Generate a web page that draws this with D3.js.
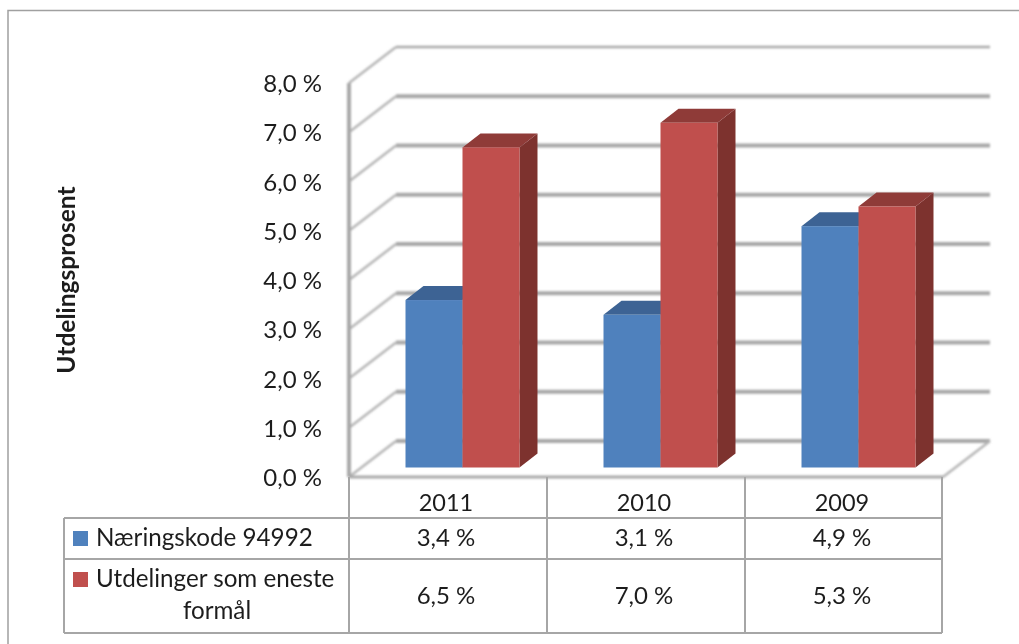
<!DOCTYPE html>
<html>
<head>
<meta charset="utf-8">
<script src="https://cdn.jsdelivr.net/npm/d3@7"></script>
<style>
  html, body { margin: 0; padding: 0; background: #fff; }
  text { font-family: Lato, "Open Sans", sans-serif; fill: #1f1f1f; }
</style>
</head>
<body>
<div id="my_dataviz"></div>
<script>
var years = ["2011", "2010", "2009"]
var seriesNames = ["Næringskode 94992", "Utdelinger som eneste formål"]
var kode = [3.4, 3.1, 4.9]
var eneste = [6.5, 7.0, 5.3]
var yTicks = [0, 1, 2, 3, 4, 5, 6, 7, 8]

var width = 1019, height = 644
var fmt = d => d.toFixed(1).replace(".", ",") + " %"

var svg = d3.select("#my_dataviz").append("svg")
  .attr("width", width).attr("height", height)
  .style("display", "block")

// the reference is a slightly soft raster
var defs = svg.append("defs")
defs.append("filter").attr("id", "soft")
  .append("feGaussianBlur").attr("stdDeviation", 0.6)
defs.append("filter").attr("id", "softer")
  .attr("x", "-5%").attr("y", "-5%").attr("width", "110%").attr("height", "110%")
  .append("feGaussianBlur").attr("stdDeviation", 0.9)

// outer frame: only top and left are inside the picture
svg.append("path")
  .attr("d", "M8,644V10.5H1019")
  .attr("fill", "none").attr("stroke", "#a0a0a0").attr("stroke-width", 1.5)

var root = svg.append("g").attr("filter", "url(#soft)")

var ys = d3.scaleLinear().domain([0, 8]).range([477, 83])
var xs = d3.scaleBand().domain(years).range([349, 943])
var xInner = d3.scaleBand().domain([0, 1]).range([2, xs.bandwidth() + 2]).paddingOuter(0.737)

// wall depth, and where the bars sit inside it
var wallDx = 47, wallDy = 36
var barDx = 12.5, barDy = 9.5
var topDx = 18, topDy = 14

var grid = root.append("g").attr("filter", "url(#softer)")

// gridlines: side wall then back wall
grid.selectAll(".side").data(yTicks).enter().append("line")
  .attr("x1", 349).attr("y1", d => ys(d))
  .attr("x2", 349 + wallDx).attr("y2", d => ys(d) - wallDy)
  .attr("stroke", "#b5b5b5").attr("stroke-width", 2.5)

grid.selectAll(".back").data(yTicks).enter().append("line")
  .attr("x1", 349 + wallDx).attr("y1", d => ys(d) - wallDy)
  .attr("x2", 943 + wallDx).attr("y2", d => ys(d) - wallDy)
  .attr("stroke", "#a8a8a8").attr("stroke-width", d => d == 8 ? 2.5 : 4)

// floor edge and y axis post
grid.append("line")
  .attr("x1", 943).attr("y1", ys(0)).attr("x2", 943 + wallDx).attr("y2", ys(0) - wallDy)
  .attr("stroke", "#b5b5b5").attr("stroke-width", 2.5)
grid.append("line")
  .attr("x1", 349).attr("y1", ys(8)).attr("x2", 349).attr("y2", ys(0))
  .attr("stroke", "#a8a8a8").attr("stroke-width", 4)
grid.append("line")
  .attr("x1", 349).attr("y1", ys(0)).attr("x2", 943).attr("y2", ys(0))
  .attr("stroke", "#a8a8a8").attr("stroke-width", 3)

// y tick labels
root.selectAll(".ytick").data(yTicks).enter().append("text")
  .attr("x", 322).attr("y", d => ys(d) + 9)
  .attr("text-anchor", "end").attr("font-size", 24)
  .text(fmt)

root.append("text")
  .attr("transform", "translate(75,280) rotate(-90)")
  .attr("text-anchor", "middle")
  .attr("font-size", 24.5).attr("font-weight", "bold")
  .text("Utdelingsprosent")

// bars, drawn back to front inside each category
var colors = [
  { front: "#4f81bd", top: "#3c6494", side: "#385d8a" },
  { front: "#c0504d", top: "#8f3b39", side: "#7d302e" }
]

var bars = []
years.forEach(function (y, i) {
  bars.push({ year: y, s: 0, value: kode[i] })
  bars.push({ year: y, s: 1, value: eneste[i] })
})

var barG = root.selectAll(".bar").data(bars).enter().append("g").attr("class", "bar")

function poly(pts) { return pts.map(p => p.join(",")).join(" ") }
var x0 = d => xs(d.year) + xInner(d.s) + barDx
var x1 = d => x0(d) + xInner.bandwidth()
var yTop = d => ys(d.value) - barDy
var yBase = () => ys(0) - barDy

barG.append("polygon")
  .attr("points", d => poly([[x1(d), yTop(d)], [x1(d) + topDx, yTop(d) - topDy], [x1(d) + topDx, yBase() - topDy], [x1(d), yBase()]]))
  .attr("fill", d => colors[d.s].side)
barG.append("polygon")
  .attr("points", d => poly([[x0(d), yTop(d)], [x0(d) + topDx, yTop(d) - topDy], [x1(d) + topDx, yTop(d) - topDy], [x1(d), yTop(d)]]))
  .attr("fill", d => colors[d.s].top)
barG.append("rect")
  .attr("x", x0).attr("y", yTop)
  .attr("width", xInner.bandwidth()).attr("height", d => yBase() - yTop(d))
  .attr("fill", d => colors[d.s].front)

// data table
var rowY = [477, 518, 559, 633]
var tableLeft = 64
var tableStroke = "#a6a6a6"
var table = root.append("g").attr("stroke", tableStroke).attr("stroke-width", 2)

xs.domain().concat("end").forEach(function (y) {
  var x = y == "end" ? xs.range()[1] - 1 : xs(y)
  table.append("line").attr("x1", x).attr("x2", x).attr("y1", rowY[0]).attr("y2", rowY[3])
})
table.append("line").attr("x1", tableLeft).attr("x2", tableLeft).attr("y1", rowY[1]).attr("y2", rowY[3])
rowY.slice(1).forEach(function (y) {
  table.append("line").attr("x1", tableLeft).attr("x2", xs.range()[1] - 1).attr("y1", y).attr("y2", y)
})

// table text sits a little left of the band centre in the reference
var cellX = y => xs(y) + xs.bandwidth() / 2 - 2

root.selectAll(".year").data(years).enter().append("text")
  .attr("x", d => cellX(d)).attr("y", 511)
  .attr("text-anchor", "middle").attr("font-size", 23.5)
  .text(d => d)

root.selectAll(".v1").data(kode).enter().append("text")
  .attr("x", (d, i) => cellX(years[i])).attr("y", 546)
  .attr("text-anchor", "middle").attr("font-size", 24)
  .text(fmt)

root.selectAll(".v2").data(eneste).enter().append("text")
  .attr("x", (d, i) => cellX(years[i])).attr("y", 604)
  .attr("text-anchor", "middle").attr("font-size", 24)
  .text(fmt)

// legend keys in the table
root.append("rect").attr("x", 73).attr("y", 531).attr("width", 15).attr("height", 15).attr("fill", colors[0].front)
root.append("rect").attr("x", 73).attr("y", 572).attr("width", 15).attr("height", 15).attr("fill", colors[1].front)

root.append("text").attr("x", 96).attr("y", 546).attr("font-size", 24.2).text(seriesNames[0])
root.append("text").attr("x", 96).attr("y", 587).attr("font-size", 24.2).text("Utdelinger som eneste")
root.append("text").attr("x", 217).attr("y", 619).attr("text-anchor", "middle").attr("font-size", 24.2).text("formål")
</script>
</body>
</html>
